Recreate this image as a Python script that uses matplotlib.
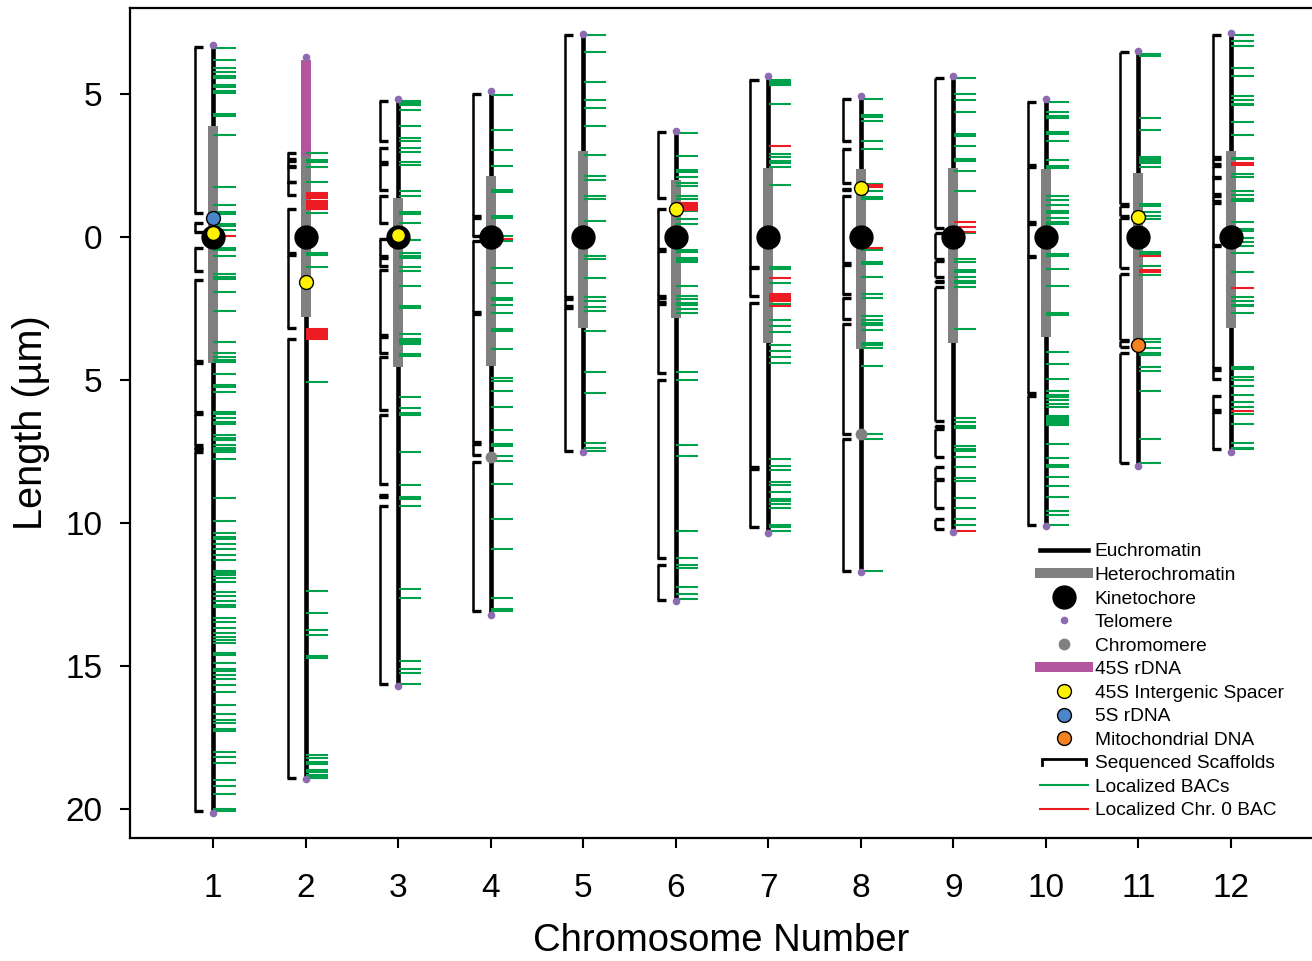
import matplotlib
matplotlib.use('Agg')
import matplotlib.pyplot as plt
from matplotlib.lines import Line2D
from matplotlib.legend_handler import HandlerBase

plt.rcParams['font.family'] = ['Liberation Sans', 'DejaVu Sans']

# ---------------- data (µm from kinetochore; positive = short arm / up) ----
chromosomes = list(range(1, 13))
x_tick_labels = [str(c) for c in chromosomes]
y_ticks = [5, 0, -5, -10, -15, -20]
y_tick_labels = ['5', '0', '5', '10', '15', '20']

chrom_top = [6.71, 6.28, 4.81, 5.10, 7.10, 3.71, 5.63, 4.91, 5.61, 4.81, 6.51, 7.12]
chrom_bottom = [-20.12, -18.93, -15.70, -13.22, -7.51, -12.73, -10.33, -11.71,
                -10.30, -10.10, -8.01, -7.52]
het_top = [3.86, 2.83, 1.35, 2.14, 3.01, 1.99, 2.40, 2.37, 2.40, 2.37, 2.23, 3.01]
het_bottom = [-4.42, -2.81, -4.56, -4.52, -3.19, -2.84, -3.70, -3.93, -3.70,
              -3.51, -3.60, -3.19]

rdna45s_chrom = [2]
rdna45s_top = [6.19]
rdna45s_bottom = [2.83]

igs_chrom = [1, 2, 3, 6, 8, 11]
igs_pos = [0.14, -1.59, 0.08, 0.98, 1.70, 0.71]
s5_chrom = [1]
s5_pos = [0.66]
mito_chrom = [11]
mito_pos = [-3.78]
chromomere_chrom = [4, 8]
chromomere_pos = [-7.70, -6.90]

green_bacs = [
    [6.59, 6.19, 5.92, 5.75, 5.64, 5.57, 5.32, 5.25, 5.11, 5.04, 4.30, 4.23, 3.57, 1.76,
     1.10, 0.86, 0.79, 0.45, 0.38, 0.24, -0.39, -0.46, -0.65, -1.30, -1.39, -1.46, -1.91,
     -2.58, -3.66, -4.04, -4.18, -4.31, -4.38, -4.80, -5.18, -5.25, -5.41, -6.10, -6.17,
     -6.34, -6.48, -6.55, -6.92, -7.01, -7.08, -7.27, -7.36, -7.43, -7.51, -7.75, -9.11,
     -9.92, -10.34, -10.47, -10.54, -10.72, -10.90, -11.11, -11.28, -11.67, -11.74,
     -11.81, -11.91, -12.05, -12.40, -12.54, -12.72, -12.87, -12.94, -13.30, -13.45,
     -13.66, -13.83, -13.97, -14.09, -14.18, -14.55, -14.62, -14.88, -15.11, -15.18,
     -15.31, -15.44, -15.65, -15.90, -16.35, -16.67, -16.86, -16.98, -17.20, -17.27,
     -18.00, -18.17, -18.38, -18.97, -19.19, -19.46, -19.98, -20.05],
    [2.95, 2.70, 2.63, 2.46, 1.93, 0.83, -0.56, -0.63, -1.04, -5.06, -12.37, -13.13,
     -13.73, -13.90, -14.64, -14.71, -18.10, -18.22, -18.34, -18.41, -18.61, -18.68,
     -18.80, -18.86, -18.92],
    [4.74, 4.67, 4.60, 4.42, 3.86, 3.47, 3.37, 3.12, 2.98, 2.63, 2.53, 1.62, 1.44, 0.86,
     0.79, 0.50, -0.10, -0.57, -0.68, -0.75, -1.04, -1.18, -1.70, -2.40, -2.47, -3.39,
     -3.55, -3.62, -3.69, -3.75, -4.10, -4.17, -5.58, -5.98, -6.14, -6.21, -7.51, -8.67,
     -9.07, -9.14, -9.41, -12.30, -12.61, -14.83, -15.09, -15.23, -15.62],
    [4.97, 3.74, 3.04, 2.48, 1.64, 1.57, 0.74, 0.67, 0.03, -0.13, -1.07, -1.60, -2.14,
     -2.21, -2.38, -2.65, -3.22, -3.29, -3.90, -4.92, -5.03, -5.37, -5.93, -6.75, -7.24,
     -7.31, -7.66, -7.83, -8.63, -9.85, -10.90, -12.61, -13.00, -13.06],
    [7.04, 6.45, 5.43, 4.77, 4.52, 3.89, 2.88, 2.14, 1.98, 1.44, 1.34, 0.57, -0.66,
     -0.77, -1.42, -2.09, -2.23, -2.44, -2.58, -3.28, -4.71, -5.44, -7.19, -7.36, -7.47],
    [3.65, 2.84, 2.35, 2.28, 2.11, 1.90, 1.79, 1.44, 1.33, 0.89, 0.63, 0.44, -0.45,
     -0.52, -0.74, -0.81, -0.89, -1.70, -2.08, -2.15, -2.29, -2.36, -2.53, -2.65, -4.71,
     -5.00, -7.27, -7.66, -10.28, -11.21, -11.47, -11.56, -12.23, -12.48, -12.66],
    [5.49, 5.42, 5.36, 5.30, 4.66, 2.91, 2.81, 2.65, 2.58, 2.46, 1.82, -1.04, -1.11,
     -1.60, -2.33, -2.89, -3.10, -3.31, -3.76, -3.97, -4.18, -4.40, -7.75, -8.00, -8.14,
     -8.55, -8.66, -8.90, -9.14, -9.21, -9.33, -9.46, -10.07, -10.14, -10.27],
    [4.83, 4.27, 4.20, 4.06, 3.37, 3.08, 1.85, 1.62, 1.38, 1.31, -0.45, -0.89, -0.96,
     -1.40, -1.99, -2.13, -2.75, -2.90, -3.02, -3.09, -3.24, -3.71, -3.78, -3.88, -4.50,
     -6.88, -7.06, -11.67],
    [5.57, 4.98, 4.77, 4.35, 3.61, 3.54, 3.18, 2.72, 2.65, 2.32, 1.59, 0.13, -0.77,
     -0.86, -1.15, -1.22, -1.39, -1.55, -1.62, -1.74, -3.23, -6.32, -6.46, -6.59, -6.66,
     -7.31, -7.42, -7.49, -7.68, -8.03, -8.42, -8.52, -9.11, -9.46, -9.85, -10.06],
    [4.73, 4.38, 4.24, 4.17, 3.68, 3.61, 3.37, 2.69, 2.49, 2.42, 1.44, 1.29, 1.10, 0.92,
     0.85, 0.68, 0.53, 0.46, -0.60, -0.67, -1.12, -1.71, -2.64, -2.71, -4.01, -4.44,
     -4.97, -5.37, -5.52, -5.59, -5.70, -5.84, -5.93, -6.24, -6.31, -6.38, -6.45, -6.52,
     -6.57, -7.25, -7.72, -7.95, -8.02, -8.38, -8.71, -9.08, -9.58, -9.72, -10.06],
    [6.40, 6.31, 4.14, 3.75, 2.78, 2.71, 2.64, 2.58, 2.46, 1.16, 1.09, 0.87, 0.75, 0.63,
     -0.54, -0.60, -1.01, -1.32, -3.57, -3.66, -3.88, -4.04, -4.11, -4.53, -4.67, -5.37,
     -7.05, -7.89],
    [7.04, 6.86, 6.66, 5.89, 5.61, 4.91, 4.79, 4.66, 4.60, 4.03, 3.58, 2.77, 2.71, 2.20,
     2.11, 1.59, 1.48, 1.33, 1.24, 0.51, 0.27, 0.21, -0.02, -0.16, -0.30, -0.55, -1.21,
     -2.09, -2.23, -2.36, -2.42, -2.65, -4.53, -4.60, -4.88, -5.00, -5.20, -5.51, -5.76,
     -5.93, -6.19, -6.54, -7.19, -7.36, -7.42],
]

red_bacs = [
    [0.05],
    [1.53, 1.47, 1.41, 1.36, 1.26, 1.20, 1.14, 1.08, 1.02, 0.97,
     -3.20, -3.26, -3.32, -3.38, -3.44, -3.50, -3.55],
    [],
    [-0.06],
    [],
    [1.18, 1.12, 1.06, 1.00, 0.95],
    [3.19, -1.42, -2.00, -2.06, -2.12, -2.18, -2.24, -2.40],
    [1.80, 1.73, -0.37],
    [0.52, 0.36, 0.17, -10.27],
    [],
    [-0.66, -1.15, -1.21],
    [2.58, 2.52, -1.77, -6.07],
]

scaffolds = [
    [(6.63, 0.83), (0.48, 0.19), (-0.40, -1.18), (-1.50, -4.33), (-4.40, -6.10),
     (-6.17, -7.27), (-7.36, -7.42), (-7.53, -20.07)],
    [(2.95, 2.72), (2.66, 2.48), (2.44, 1.47), (1.93, 1.93), (0.98, -0.56),
     (-0.62, -3.17), (-3.55, -18.92)],
    [(4.76, 3.37), (3.10, 2.61), (2.55, 1.64), (1.43, 0.48), (-0.07, -0.68),
     (-0.74, -1.01), (-1.15, -3.42), (-3.49, -4.07), (-4.19, -6.03), (-6.21, -8.63),
     (-9.02, -9.08), (-9.41, -15.61)],
    [(5.00, 0.74), (0.68, 0.03), (-0.15, -2.62), (-2.69, -7.18), (-7.25, -7.63),
     (-7.86, -13.07)],
    [(7.04, -2.10), (-2.17, -2.40), (-2.47, -7.47)],
    [(3.68, 1.35), (0.97, -0.42), (-0.48, -2.08), (-2.14, -2.27), (-2.33, -4.75),
     (-5.00, -11.23), (-11.45, -12.67)],
    [(5.49, -1.04), (-1.10, -2.05), (-2.32, -8.04), (-8.10, -10.15)],
    [(4.83, 3.36), (3.07, 1.90), (1.68, 1.64), (1.42, -0.92), (-0.98, -2.00),
     (-2.14, -2.88), (-3.05, -6.89), (-7.07, -11.68)],
    [(5.57, 0.31), (0.13, -0.78), (-0.84, -1.41), (-1.53, -1.59), (-1.76, -6.44),
     (-6.60, -6.64), (-6.70, -7.70), (-8.05, -8.44), (-8.50, -9.46), (-9.84, -10.22)],
    [(4.73, 2.50), (2.44, 0.52), (0.46, -0.66), (-0.70, -5.45), (-5.55, -10.07)],
    [(6.46, 1.14), (1.08, 0.75), (0.68, -1.10), (-1.30, -3.59), (-3.65, -3.86),
     (-4.04, -7.89)],
    [(7.06, 2.79), (2.72, 2.55), (2.49, 2.11), (2.05, 1.50), (1.44, 1.24), (1.18, -0.27),
     (-0.33, -4.58), (-4.64, -4.96), (-5.55, -6.04), (-6.10, -7.41)],
]

# ---------------- style ----------------
C_BLACK = '#000000'
C_GREY = '#808080'
C_MAG = '#b4559f'
C_GREEN = '#00a14b'
C_RED = '#ed1c24'
C_PURPLE = '#8c6bb1'
C_YELLOW = '#fff200'
C_BLUE = '#4a86c8'
C_ORANGE = '#f58220'

EU_LW = 3.3
HET_LW = 7.2
BAC_LW = 1.5
BAC_X0, BAC_X1 = 0.005, 0.245
BR_X, BR_TIP = -0.195, -0.105

fig = plt.figure(figsize=(13.12, 9.61), dpi=100)
ax = fig.add_axes([130 / 1312, 1 - 838 / 961, 1 - 130 / 1312, 830 / 961])

for c, top, bot in zip(chromosomes, chrom_top, chrom_bottom):
    ax.plot([c, c], [top, bot], color=C_BLACK, lw=EU_LW, solid_capstyle='butt', zorder=2)
for c, top, bot in zip(chromosomes, het_top, het_bottom):
    ax.plot([c, c], [top, bot], color=C_GREY, lw=HET_LW, solid_capstyle='butt', zorder=3)
for c, top, bot in zip(rdna45s_chrom, rdna45s_top, rdna45s_bottom):
    ax.plot([c, c], [top, bot], color=C_MAG, lw=HET_LW, solid_capstyle='butt', zorder=3)

for c, pos in zip(chromosomes, green_bacs):
    ax.hlines(pos, c + BAC_X0, c + BAC_X1, color=C_GREEN, lw=BAC_LW, zorder=4)
for c, pos in zip(chromosomes, red_bacs):
    if pos:
        ax.hlines(pos, c + BAC_X0, c + BAC_X1, color=C_RED, lw=BAC_LW, zorder=4)

for c, scs in zip(chromosomes, scaffolds):
    for s, e in scs:
        ax.plot([c + BR_X, c + BR_X], [s, e], color=C_BLACK, lw=1.8,
                solid_capstyle='butt', zorder=2)
        ax.hlines([s, e], c + BR_X - 0.008, c + BR_TIP, color=C_BLACK, lw=2.4, zorder=2)

# kinetochores
ax.plot(chromosomes, [0] * len(chromosomes), 'o', color=C_BLACK, ms=16.5, zorder=6)
# telomeres
ax.plot(chromosomes, chrom_top, 'o', color=C_PURPLE, ms=5.5, mew=0, zorder=6)
ax.plot(chromosomes, chrom_bottom, 'o', color=C_PURPLE, ms=5.5, mew=0, zorder=6)
# chromomeres
ax.plot(chromomere_chrom, chromomere_pos, 'o', color=C_GREY, ms=8.5, mew=0, zorder=6)
# 45S IGS, 5S, mito
ax.plot(igs_chrom, igs_pos, 'o', mfc=C_YELLOW, mec=C_BLACK, mew=1.0, ms=10, ls='', zorder=7)
ax.plot(s5_chrom, s5_pos, 'o', mfc=C_BLUE, mec=C_BLACK, mew=1.0, ms=10, ls='', zorder=7)
ax.plot(mito_chrom, mito_pos, 'o', mfc=C_ORANGE, mec=C_BLACK, mew=1.0, ms=10, ls='', zorder=7)

ax.set_xlim(0.103, 12.876)
ax.set_ylim(-21.0, 8.0)
ax.set_xticks(chromosomes)
ax.set_xticklabels(x_tick_labels, fontsize=24)
ax.set_yticks(y_ticks)
ax.set_yticklabels(y_tick_labels, fontsize=24)
ax.tick_params(axis='both', direction='out', length=7, width=1.5)
ax.tick_params(axis='x', pad=18)
ax.tick_params(axis='y', pad=13)
ax.spines['right'].set_visible(False)
for sp in ('left', 'top', 'bottom'):
    ax.spines[sp].set_linewidth(1.6)
ax.set_xlabel('Chromosome Number', fontsize=27.5, labelpad=14)
ax.set_ylabel('Length (µm)', fontsize=28.5, labelpad=11)


class BracketHandler(HandlerBase):
    def create_artists(self, legend, orig_handle, xdescent, ydescent, width, height,
                       fontsize, trans):
        x0 = -xdescent + 0.05 * width
        x1 = -xdescent + width * 0.97
        y0 = -ydescent + height * 0.7
        y1 = -ydescent + height * 0.25
        ln = Line2D([x0, x0, x1, x1], [y1, y0, y0, y1], color=C_BLACK, lw=2.0,
                    solid_joinstyle='miter', transform=trans)
        return [ln]


class BracketProxy:
    pass


handles = [
    Line2D([], [], color=C_BLACK, lw=EU_LW),
    Line2D([], [], color=C_GREY, lw=HET_LW),
    Line2D([], [], marker='o', color=C_BLACK, ms=16.5, ls=''),
    Line2D([], [], marker='o', color=C_PURPLE, ms=5.5, mew=0, ls=''),
    Line2D([], [], marker='o', color=C_GREY, ms=8.5, mew=0, ls=''),
    Line2D([], [], color=C_MAG, lw=HET_LW),
    Line2D([], [], marker='o', mfc=C_YELLOW, mec=C_BLACK, mew=1.0, ms=10, ls=''),
    Line2D([], [], marker='o', mfc=C_BLUE, mec=C_BLACK, mew=1.0, ms=10, ls=''),
    Line2D([], [], marker='o', mfc=C_ORANGE, mec=C_BLACK, mew=1.0, ms=10, ls=''),
    BracketProxy(),
    Line2D([], [], color=C_GREEN, lw=BAC_LW),
    Line2D([], [], color=C_RED, lw=BAC_LW),
]
labels = ['Euchromatin', 'Heterochromatin', 'Kinetochore', 'Telomere', 'Chromomere',
          '45S rDNA', '45S Intergenic Spacer', '5S rDNA', 'Mitochondrial DNA',
          'Sequenced Scaffolds', 'Localized BACs', 'Localized Chr. 0 BAC']
ax.legend(handles, labels, handler_map={BracketProxy: BracketHandler()},
          loc='upper left', bbox_to_anchor=((1040 - 130) / 1182, 1 - (543 - 8) / 830),
          frameon=False, fontsize=13.8, borderpad=0, borderaxespad=0,
          handlelength=2.5, handletextpad=0.35, labelspacing=0.32, numpoints=1)

fig.savefig('out.png', dpi=100)
